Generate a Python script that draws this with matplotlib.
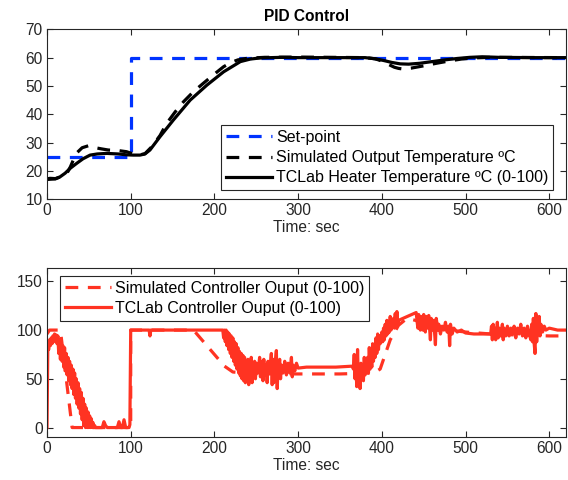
import matplotlib
matplotlib.use("Agg")
import matplotlib.pyplot as plt

plt.rcParams['font.family'] = ['Liberation Sans', 'DejaVu Sans']

# ---------------- data: top panel (temperatures) ----------------
sp_t = [0, 100, 100, 620]
sp_v = [25, 25, 60, 60]

sim_T_t = [0, 10, 20, 25, 28, 31.5, 36, 42, 49.5, 56, 65, 73, 85, 95, 103, 110, 117, 125,
           135, 143, 153, 163, 175, 187, 200, 211, 220, 228, 240, 260, 300, 380, 392,
           400, 408, 415, 420, 425, 435, 450, 465, 480, 495, 510, 530, 620]
sim_T_v = [17, 17.2, 18.5, 19.8, 21.5, 23.9, 26.5, 28.2, 28.9, 28.3, 27.8, 27.4, 27.2, 26.8,
           26.0, 25.6, 26.1, 28.5, 32.5, 36.8, 40.8, 44.4, 48.0, 51.0, 54.2, 56.8, 58.3,
           59.2, 59.8, 60.1, 60.2, 60.0, 59.6, 58.8, 57.6, 56.6, 56.2, 56.0, 56.3, 57.1,
           58.0, 58.8, 59.5, 59.9, 60.1, 60.0]

meas_T_t = [0, 3.6, 10, 15, 21.6, 28, 35.5, 43, 51.5, 60, 71.5, 85, 95, 103, 111, 117,
            123, 135, 151, 171, 191, 211, 231, 243, 255, 280, 300, 340, 380, 392, 402,
            412, 422, 432, 445, 460, 475, 490, 505, 520, 540, 580, 620]
meas_T_v = [17.2, 17.4, 17.3, 17.8, 19.2, 21.0, 22.7, 24.3, 25.6, 26.0, 26.2, 26.0, 25.7,
            25.6, 25.6, 26.0, 27.4, 32.1, 38.0, 45.0, 50.3, 55.0, 58.6, 59.5, 59.9, 60.1,
            60.0, 60.0, 60.0, 59.6, 59.0, 58.3, 57.8, 57.7, 58.0, 58.6, 59.2, 59.7, 60.1,
            60.3, 60.1, 60.0, 60.0]

# ---------------- data: bottom panel (controller output) ----------------
sim_Q_t = [0, 3, 16, 30, 100, 100, 175, 185, 200, 212, 222, 235, 260, 300, 350, 390,
           398, 400, 410, 420, 430, 440, 460, 480, 500, 530, 560, 600, 620]
sim_Q_v = [96, 100, 100, 0, 0, 100, 100, 90, 75, 63, 57, 56, 55, 55, 55, 56, 60, 65,
           90, 105, 112, 110, 104, 100, 98, 96, 95, 94, 94]

meas_Q_t = [0, 1, 2, 3, 4, 5, 6, 7, 8, 9, 10, 11, 12,
            13, 14, 15, 16, 17, 18, 19, 20, 21, 22, 23, 24, 25, 26, 27, 28, 29, 30,
            31, 32, 33, 34, 35, 36, 37, 38, 39, 40, 41, 42, 43, 44, 45, 46, 47, 48,
            49, 50, 51, 52, 53, 54, 55, 56, 57, 58,
            60, 66, 68, 70, 72, 80, 84, 86, 88, 90, 92, 94, 98, 99,
            100, 122, 123, 124, 210,
            211, 212, 213, 214, 215, 216, 217, 218, 219, 220, 221, 222, 223, 224, 225,
            226, 227, 228, 229, 230, 231, 232, 233, 234, 235, 236, 237, 238, 239, 240,
            241, 242, 243, 244, 245,
            246, 247, 248, 249, 250, 252, 254, 255, 256, 258, 259, 260, 262, 263, 264,
            266, 268, 269, 270, 271, 272, 274, 275, 276, 278, 279, 280, 282, 284, 286,
            288, 290, 292, 293, 294, 296, 298, 300,
            310, 325, 345, 365,
            366, 367, 368, 369, 370, 371, 372, 373, 374, 375, 376, 377, 378, 379, 380, 382,
            383, 384, 385, 386, 387, 388, 389, 390, 391, 392, 393, 394, 395, 396, 397, 398,
            400, 401, 402, 403, 404, 405, 406, 407, 408, 409, 410, 411, 412, 414, 415, 416,
            417, 418, 419, 420, 441,
            443, 444, 446, 447, 449, 450, 452, 453, 455, 456, 458, 459, 461, 462, 464, 465,
            467, 468, 470, 472, 474, 476, 478, 480, 481, 482, 484, 486, 490, 495,
            500, 510, 520, 528,
            530, 531, 532, 533, 534, 535, 536, 538, 539, 540, 542, 544, 545, 546, 548, 550,
            552, 554, 556, 558, 560, 562, 564, 566, 568, 570, 572, 574, 576, 578, 579, 580,
            581, 582, 583, 584, 585, 586, 587, 588, 589, 590, 592, 594, 596, 600, 610, 620]
meas_Q_v = [0, 85, 80, 90, 84, 92, 86, 94, 88, 96, 90, 95, 86,
            94, 76, 90, 70, 88, 68, 84, 62, 82, 58, 76, 54, 72, 48, 68, 44, 64, 40,
            60, 34, 56, 30, 50, 24, 46, 20, 40, 14, 36, 8, 30, 2, 24, 0, 20, 0,
            16, 0, 12, 0, 9, 0, 5, 0, 2, 0,
            0, 0, 6, 2, 0, 0, 0, 6, 0, 0, 8, 0, 0, 3,
            100, 100, 94, 100, 100,
            92, 100, 88, 100, 84, 98, 80, 96, 76, 94, 72, 92, 68, 88, 64,
            86, 60, 82, 56, 78, 53, 76, 50, 74, 48, 72, 46, 68, 48, 70,
            44, 66, 50, 72, 46,
            62, 52, 68, 50, 66, 56, 72, 52, 68, 48, 70, 54, 64, 46, 68,
            56, 76, 44, 70, 46, 60, 79, 40, 60, 70, 50, 64, 56, 68, 54,
            66, 56, 72, 52, 64, 58, 66, 61,
            62, 62, 62, 63,
            60, 75, 50, 68, 42, 80, 46, 62, 40, 66, 50, 64, 48, 72, 54, 66,
            72, 56, 82, 60, 74, 62, 86, 68, 84, 72, 92, 76, 96, 80, 94, 86,
            98, 88, 102, 90, 106, 94, 110, 96, 106, 98, 114, 100, 108, 112, 102, 117,
            104, 119, 106, 110, 118,
            102, 116, 100, 114, 100, 116, 98, 114, 102, 115, 90, 112, 100, 110, 85, 112,
            100, 106, 96, 104, 100, 108, 98, 104, 84, 106, 96, 102, 98, 100,
            97, 96, 96, 96,
            96, 104, 90, 106, 92, 102, 90, 108, 92, 102, 94, 106, 90, 102, 94, 104,
            94, 102, 96, 104, 92, 102, 96, 106, 94, 102, 92, 104, 96, 90, 106, 88,
            112, 86, 76, 117, 88, 110, 96, 114, 94, 106, 98, 104, 100, 102, 100, 100]

x_ticks = [0, 100, 200, 300, 400, 500, 600]
top_y_ticks = [10, 20, 30, 40, 50, 60, 70]
bot_y_ticks = [0, 50, 100, 150]

BLUE = '#0033ff'
RED = '#ff3322'
AX = '#262626'
FS = 11.2
LFS = 11.5

fig = plt.figure(figsize=(5.68, 4.8), dpi=100)
ax1 = fig.add_axes([47/568, 1-199.3/480, 519/568, 170/480])
ax2 = fig.add_axes([47/568, 1-437.3/480, 519/568, 169.6/480])

dash = (0, (4, 3))
ax1.plot(sp_t, sp_v, color=BLUE, lw=2.3, linestyle=dash, label='Set-point')
ax1.plot(sim_T_t, sim_T_v, color='black', lw=2.3, linestyle=dash,
         label='Simulated Output Temperature ºC')
ax1.plot(meas_T_t, meas_T_v, color='black', lw=2.3,
         label='TCLab Heater Temperature ºC (0-100)')

ax2.plot(sim_Q_t, sim_Q_v, color=RED, lw=2.3, linestyle=dash,
         label='Simulated Controller Ouput (0-100)')
ax2.plot(meas_Q_t, meas_Q_v, color=RED, lw=2.3,
         label='TCLab Controller Ouput (0-100)')

for ax in (ax1, ax2):
    ax.set_xlim(0, 620)
    ax.set_xticks(x_ticks)
    ax.tick_params(direction='in', top=True, right=True, length=4, width=0.8,
                   colors=AX, labelsize=FS, pad=3)
    for s in ax.spines.values():
        s.set_color(AX)
        s.set_linewidth(0.8)
    ax.set_xlabel('Time: sec', fontsize=FS, color=AX, labelpad=1)

ax1.set_ylim(10, 70)
ax1.set_yticks(top_y_ticks)
ax2.set_ylim(-10, 164)
ax2.set_yticks(bot_y_ticks)

ax1.set_title('PID Control', fontsize=FS, fontweight='bold', pad=6)

leg1 = ax1.legend(loc='lower right', bbox_to_anchor=(553/568, 1-190/480),
                  bbox_transform=fig.transFigure, fontsize=LFS, handlelength=2.9,
                  handletextpad=0.25, labelspacing=0.32, borderpad=0.3,
                  fancybox=False, framealpha=1, borderaxespad=0)
leg1.get_frame().set_edgecolor(AX)
leg1.get_frame().set_linewidth(0.8)

leg2 = ax2.legend(loc='upper left', bbox_to_anchor=(60/568, 1-276/480),
                  bbox_transform=fig.transFigure, fontsize=LFS, handlelength=2.9,
                  handletextpad=0.25, labelspacing=0.32, borderpad=0.3,
                  fancybox=False, framealpha=1, borderaxespad=0)
leg2.get_frame().set_edgecolor(AX)
leg2.get_frame().set_linewidth(0.8)

fig.savefig('out.png', dpi=100)
